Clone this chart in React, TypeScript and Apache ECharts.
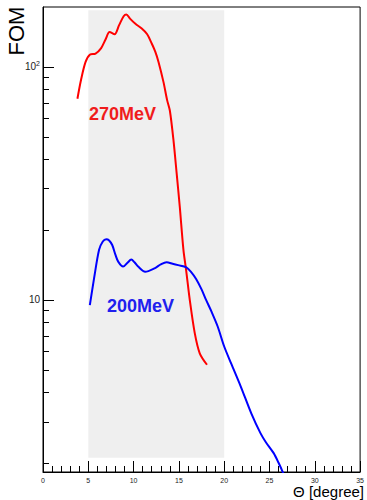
import React, { useEffect, useRef } from "react";
import * as echarts from "echarts";

const redX = [3.8, 4.2, 4.7, 5.2, 5.8, 6.4, 6.9, 7.35, 7.9, 8.4, 8.9, 9.2, 9.6, 10.2, 10.9, 11.5, 12.0, 12.4, 12.75, 13.3, 13.7, 14.0, 14.4, 14.75, 15.1, 15.5, 15.8, 16.2, 16.75, 17.3, 18.1];
const redY = [73, 88, 105, 113, 114, 120, 131, 141, 138, 151, 165, 168, 161, 153, 146, 138, 126, 116, 105, 86, 72, 65, 48.5, 35, 25, 16.4, 13.4, 10, 7.2, 5.9, 5.27];

const blueX = [5.17, 5.64, 6.19, 6.6, 6.98, 7.3, 7.64, 8.0, 8.3, 8.84, 9.3, 9.75, 10.1, 10.5, 11.28, 12.37, 13.0, 13.64, 14.3, 14.92, 15.82, 16.4, 16.9, 17.5, 18.0, 18.6, 19.28, 20.0, 20.8, 21.83, 23.0, 24.0, 24.6, 25.46, 26.0, 26.5, 26.9];
const blueY = [9.5, 12.4, 16.4, 17.8, 18.2, 18.0, 17.2, 15.6, 14.6, 13.9, 14.4, 14.9, 14.5, 13.9, 13.2, 13.7, 14.2, 14.5, 14.3, 14.1, 13.8, 13.1, 12.3, 11.1, 10, 8.9, 7.69, 6.31, 5.3, 4.25, 3.25, 2.68, 2.45, 2.2, 2.0, 1.81, 1.65];

const bandX = [5, 20];
const bandY = [2.1, 175];

const yMajorTicks = [10, 100];
const yMinorTicks = [2, 3, 4, 5, 6, 7, 8, 9, 20, 30, 40, 50, 60, 70, 80, 90];
const xRange = [0, 35];
const yRange = [1.826, 180.7];

const labels = [
  { text: "270MeV", color: "#f01c1c" },
  { text: "200MeV", color: "#2020ee" },
];

const FONT = '"Liberation Sans", Arial, Helvetica, sans-serif';

export default function App() {
  const ref = useRef<HTMLDivElement>(null);
  useEffect(() => {
    if (!ref.current) return;
    const chart = echarts.init(ref.current, null, { renderer: "svg" });
    const pairs = (xs: number[], ys: number[]) => xs.map((x, i) => [x, ys[i]]);
    const logAxisBase = {
      type: "log" as const,
      logBase: 10,
      min: yRange[0],
      max: yRange[1],
      position: "left" as const,
      splitLine: { show: false },
      minorTick: { show: false },
    };
    chart.setOption({
      animation: false,
      grid: {
        left: 43,
        right: 3,
        top: 7,
        bottom: 28,
        show: true,
        borderColor: "#000",
        borderWidth: 1,
        containLabel: false,
      },
      xAxis: {
        type: "value",
        min: xRange[0],
        max: xRange[1],
        interval: 5,
        axisLine: { show: true, onZero: false, lineStyle: { color: "#000", width: 1 } },
        axisTick: { show: true, inside: true, length: 11, lineStyle: { color: "#000" } },
        minorTick: { show: true, splitNumber: 5, length: 6, lineStyle: { color: "#000" } },
        splitLine: { show: false },
        minorSplitLine: { show: false },
        axisLabel: {
          fontSize: 7,
          margin: 5,
          color: "#222",
          fontFamily: FONT,
          showMaxLabel: true,
          showMinLabel: true,
        },
      },
      yAxis: [
        {
          ...logAxisBase,
          axisLine: { show: true, lineStyle: { color: "#000", width: 1 } },
          axisTick: {
            show: true,
            inside: true,
            length: 11,
            customValues: yMajorTicks,
            lineStyle: { color: "#000" },
          },
          axisLabel: {
            show: true,
            customValues: yMajorTicks,
            margin: 3,
            fontSize: 10,
            color: "#222",
            fontFamily: FONT,
            formatter: (v: number) => (Math.abs(v - 100) < 1e-6 ? "10{sup|2}" : "10"),
            rich: {
              sup: { fontSize: 7, verticalAlign: "top", padding: [0, 0, 6, 0], color: "#222", fontFamily: FONT },
            },
          },
        },
        {
          ...logAxisBase,
          axisLine: { show: false },
          axisTick: {
            show: true,
            inside: true,
            length: 6,
            customValues: yMinorTicks,
            lineStyle: { color: "#000" },
          },
          axisLabel: { show: false },
        },
      ],
      series: [
        {
          type: "line",
          name: "270MeV",
          yAxisIndex: 0,
          data: pairs(redX, redY),
          smooth: 0.3,
          showSymbol: false,
          symbol: "none",
          clip: true,
          lineStyle: { color: "#ff0000", width: 2 },
          z: 3,
          markArea: {
            silent: true,
            itemStyle: { color: "#efefef" },
            data: [[{ coord: [bandX[0], bandY[0]] }, { coord: [bandX[1], bandY[1]] }]],
            z: 1,
          },
        },
        {
          type: "line",
          name: "200MeV",
          yAxisIndex: 0,
          data: pairs(blueX, blueY),
          smooth: 0.3,
          showSymbol: false,
          symbol: "none",
          clip: true,
          lineStyle: { color: "#0000ff", width: 2 },
          z: 3,
        },
      ],
      graphic: [
        {
          type: "text",
          x: 89,
          y: 114,
          style: {
            text: labels[0].text,
            fill: labels[0].color,
            fontSize: 18,
            fontWeight: "bold",
            fontFamily: FONT,
            align: "left",
            verticalAlign: "middle",
          },
          z: 10,
        },
        {
          type: "text",
          x: 107,
          y: 306,
          style: {
            text: labels[1].text,
            fill: labels[1].color,
            fontSize: 18,
            fontWeight: "bold",
            fontFamily: FONT,
            align: "left",
            verticalAlign: "middle",
          },
          z: 10,
        },
        {
          type: "text",
          x: 16,
          y: 31,
          rotation: Math.PI / 2,
          style: {
            text: "FOM",
            fill: "#000",
            fontSize: 22,
            fontFamily: FONT,
            align: "center",
            verticalAlign: "middle",
          },
        },
        {
          type: "text",
          x: 364,
          y: 491,
          style: {
            text: "Θ [degree]",
            fill: "#000",
            fontSize: 15,
            fontFamily: FONT,
            align: "right",
            verticalAlign: "middle",
          },
        },
      ],
    });
    return () => chart.dispose();
  }, []);
  return (
    <div
      ref={ref}
      style={{ position: "absolute", left: 0, top: 0, width: 367, height: 500, background: "#fff" }}
    />
  );
}
